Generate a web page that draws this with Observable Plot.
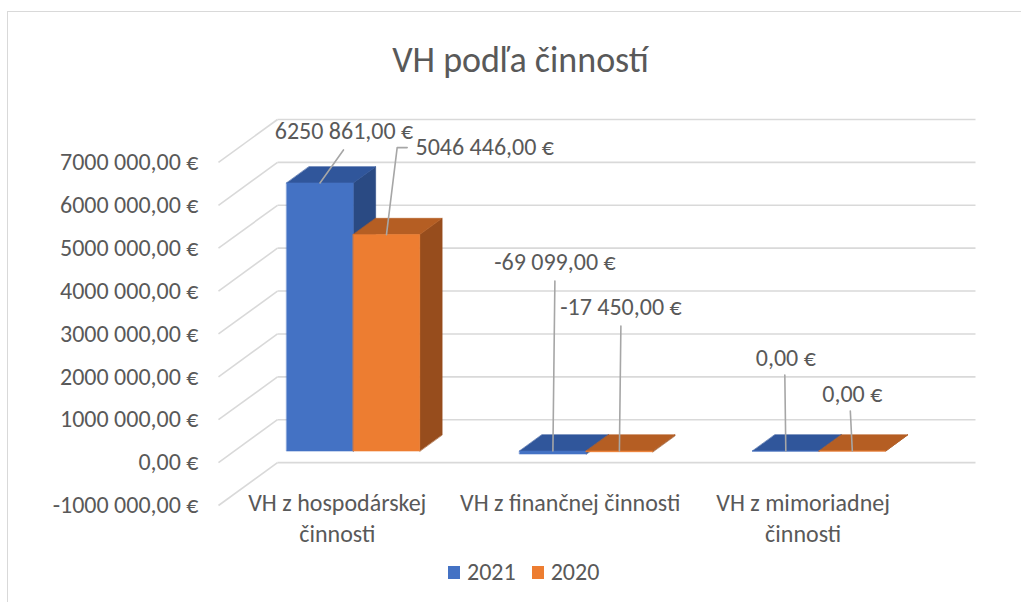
<!DOCTYPE html>
<html><head><meta charset="utf-8">
<script src="https://cdn.jsdelivr.net/npm/d3@7"></script>
<script src="https://cdn.jsdelivr.net/npm/@observablehq/plot@0.6"></script>
<style>
  body { margin: 0; background: #fff; }
  #wrap { position: relative; width: 1021px; height: 602px; overflow: hidden; font-family: Carlito, Lato, sans-serif; color: #595959; }
  #frame { position: absolute; left: 7px; top: 11px; width: 1200px; height: 800px; border: 1.5px solid #d9d9d9; box-sizing: border-box; }
  #title { position: absolute; left: 0; top: 42px; width: 1041px; text-align: center; font-size: 36px; line-height: 36px; }
  #chart { position: absolute; left: 0; top: 0; }
  #legend { position: absolute; left: 448px; top: 559px; display: flex; align-items: center; font-size: 24px; line-height: 26px; }
  .sw { width: 12px; height: 13px; display: inline-block; margin-right: 7px; }
  .lg { margin-right: 16px; }
</style>
</head><body>
<div id="wrap">
  <div id="frame"></div>
  <div id="title">VH podľa činností</div>
  <div id="chart"></div>
  <div id="legend"></div>
</div>
<script>
// ---- data ----
const categories = ["VH z hospodárskej\nčinnosti", "VH z finančnej činnosti", "VH z mimoriadnej\nčinnosti"];
const seriesNames = ["2021", "2020"];
const values2021 = [6250861, -69099, 0];
const values2020 = [5046446, -17450, 0];
const yTicks = [-1000000, 0, 1000000, 2000000, 3000000, 4000000, 5000000, 6000000, 7000000];

// ---- style / layout ----
const frontColors = ["#4472c4", "#ed7d31"];
const topColors = ["#30569b", "#b55e23"];
const sideColors = ["#2a4a83", "#974d1d"];
const W = 1021, H = 545;
const mL = 218, mR = 46, mT = 119, mB = H - 505;
const xDomain = [-0.51, 2.74];
const yDomain = [-1000000, 8000000];
const KX = (W - mL - mR) / (xDomain[1] - xDomain[0]);      // px per x unit
const KY = (H - mT - mB) / (yDomain[1] - yDomain[0]);      // px per value unit
const DX = 59 / KX;          // depth offset (x units) of the whole floor
const DY = 1000000;          // depth offset (value units) of the whole floor
const BW = 0.2855;           // bar width (x units)
const ZF = 0.27, ZB = 0.65;  // bar front / back depth
const P = (x, v, z) => ({x: x + z * DX, y: v + z * DY});

function fmt(v) {
  const neg = v < 0;
  let [int, dec] = Math.abs(v).toFixed(2).split(".");
  if (int.length > 3) int = int.slice(0, -3) + " " + int.slice(-3);
  return (neg ? "-" : "") + int + "," + dec + " €";
}

const seriesValues = [values2021, values2020];

// polygons (bars in 3D)
const polys = [];
categories.forEach((c, i) => {
  seriesValues.forEach((vals, s) => {
    const v = vals[i];
    const x0 = i + (s - 1) * BW, x1 = x0 + BW;
    const top = Math.max(v, 0), bot = Math.min(v, 0);
    const faces = [
      {k: "side", c: sideColors[s], pts: [P(x1, bot, ZF), P(x1, top, ZF), P(x1, top, ZB), P(x1, bot, ZB)]},
      {k: "top", c: topColors[s], pts: [P(x0, top, ZF), P(x1, top, ZF), P(x1, top, ZB), P(x0, top, ZB)]},
      {k: "front", c: frontColors[s], pts: [P(x0, bot, ZF), P(x1, bot, ZF), P(x1, top, ZF), P(x0, top, ZF)]}
    ];
    faces.forEach(f => f.pts.forEach(p => polys.push({id: `${i}-${s}-${f.k}`, x: p.x, y: p.y, color: f.c})));
  });
});

// grid lines: side wall diagonals + back wall
const grid = [];
yTicks.forEach(t => {
  grid.push({x1: xDomain[0], y1: t, x2: xDomain[0] + DX, y2: t + DY});
  grid.push({x1: xDomain[0] + DX, y1: t + DY, x2: xDomain[1], y2: t + DY});
});

// data labels: pixel offsets from bar front-top centre (layout)
const labelLayout = [
  [{dx: 24, dy: -52, a: "middle", lead: [[0, 0], [23.5, -33]]},
   {dx: 29, dy: -87, a: "start", lead: [[0, 0], [10.7, -87], [20.7, -87]]}],
  [{dx: 2, dy: -188.5, a: "middle", lead: [[0, 0], [2, -170]]},
   {dx: 1.5, dy: -143.5, a: "middle", lead: [[0, 0], [1.5, -125]]}],
  [{dx: 0, dy: -93, a: "middle", lead: [[0, 0], [-1, -76]]},
   {dx: 0, dy: -57, a: "middle", lead: [[0, 0], [-2, -40]]}]
];
const labels = [], leaders = [];
categories.forEach((c, i) => {
  seriesValues.forEach((vals, s) => {
    const v = vals[i];
    const xc = i + (s - 0.5) * BW;
    const an = P(xc, Math.max(v, 0), ZF);
    const L = labelLayout[i][s];
    labels.push({x: an.x + L.dx / KX, y: an.y - L.dy / KY, text: fmt(v), a: L.a});
    L.lead.forEach(([px, py]) => leaders.push({id: `${i}-${s}`, x: an.x + px / KX, y: an.y - py / KY}));
  });
});

const textStyle = {fontSize: 24, fill: "#595959"};

const chart = Plot.plot({
  width: W, height: H,
  marginLeft: mL, marginRight: mR, marginTop: mT, marginBottom: mB,
  x: {domain: xDomain, axis: null},
  y: {domain: yDomain, axis: null},
  color: {type: "identity"},
  style: {fontFamily: "Carlito, Lato, sans-serif", color: "#595959", background: "transparent", overflow: "visible"},
  marks: [
    Plot.link(grid, {x1: "x1", y1: "y1", x2: "x2", y2: "y2", stroke: "#d9d9d9", strokeWidth: 1.6}),
    Plot.axisY({ticks: yTicks, tickSize: 0, tickPadding: 20, tickFormat: fmt, fontSize: 24, label: null, fill: "#595959"}),
    Plot.line(polys, {x: "x", y: "y", z: "id", fill: "color", stroke: "color", strokeWidth: 0.6, curve: "linear-closed"}),
    Plot.line(leaders, {x: "x", y: "y", z: "id", stroke: "#a6a6a6", strokeWidth: 1.6}),
    Plot.text(labels.filter(d => d.a === "middle"), {x: "x", y: "y", text: "text", textAnchor: "middle", ...textStyle}),
    Plot.text(labels.filter(d => d.a === "start"), {x: "x", y: "y", text: "text", textAnchor: "start", ...textStyle}),
    Plot.text(categories, {x: (d, i) => i, y: () => yDomain[0], text: d => d, lineAnchor: "top", dy: -17, lineHeight: 31 / 24, ...textStyle})
  ]
});
document.getElementById("chart").append(chart);

// legend
const lg = document.getElementById("legend");
seriesNames.forEach((n, s) => {
  const sw = document.createElement("span"); sw.className = "sw"; sw.style.background = frontColors[s];
  const t = document.createElement("span"); t.className = "lg"; t.textContent = n;
  lg.append(sw, t);
});
</script>
</body></html>
